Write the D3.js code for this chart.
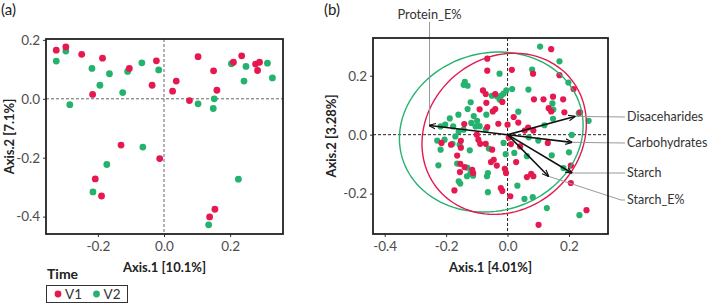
<!DOCTYPE html>
<html lang="en">
<head>
<meta charset="UTF-8">
<title>PCoA biplots</title>
<script src="https://d3js.org/d3.v7.min.js"></script>
<style>
  body { margin: 0; background: #fff; }
  text { font-family: Lato, "Noto Sans", sans-serif; }
</style>
</head>
<body>
<svg width="709" height="303"></svg>
<script>
// ---- panel (a) ----
const aV1 = [[-0.326,0.165],[-0.297,0.176],[-0.249,0.151],[-0.186,0.138],[-0.216,0.015],[-0.105,0.103],
  [-0.023,0.129],[-0.036,0.046],[0.026,0.026],[0.037,0.060],[0.103,0.143],[0.150,0.095],[0.160,0.029],
  [0.077,-0.006],[0.210,0.124],[0.235,0.146],[0.277,0.118],[0.289,0.124],[0.283,0.096],[-0.130,-0.157],
  [-0.013,-0.203],[-0.208,-0.272],[-0.189,-0.330],[0.154,-0.375],[0.138,-0.401]];
const aV2 = [[-0.326,0.128],[-0.297,0.162],[-0.285,-0.020],[-0.218,0.103],[-0.194,0.046],[-0.165,0.085],
  [-0.125,0.021],[-0.110,0.093],[-0.067,0.122],[-0.016,0.098],[0.103,-0.017],[0.152,0.000],[0.149,-0.033],
  [0.204,0.119],[0.248,0.110],[0.242,0.060],[0.313,0.121],[0.328,0.071],[-0.064,-0.164],[-0.173,-0.223],
  [-0.215,-0.316],[0.225,-0.273],[0.135,-0.428]];
const aXTicks = [-0.2, 0.0, 0.2];
const aYTicks = [0.2, 0.0, -0.2, -0.4];

// ---- panel (b) ----
const bV1 = [[0.142,0.290],[-0.066,0.258],[0.014,0.220],[0.083,0.207],[-0.066,0.217],[0.169,0.202],
  [0.215,0.155],[0.086,0.120],[0.117,0.120],[0.148,0.129],[0.181,0.120],[-0.071,0.138],[-0.040,0.138],
  [-0.069,0.108],[-0.091,0.086],[-0.040,0.087],[-0.048,0.079],[-0.017,0.111],[0.134,0.090],[0.142,0.079],
  [0.185,0.076],[0.236,0.076],[-0.030,0.037],[0.000,0.034],[-0.141,0.036],[0.084,0.014],[0.056,0.014],
  [0.131,-0.028],[0.011,-0.032],[-0.215,-0.028],[-0.184,-0.034],[-0.164,-0.071],[-0.154,-0.099],
  [-0.095,-0.017],[-0.089,-0.031],[-0.071,-0.031],[-0.050,-0.051],[-0.045,-0.085],[-0.035,-0.105],
  [-0.054,-0.093],[-0.009,-0.116],[-0.005,-0.130],[0.028,-0.093],[-0.112,-0.130],[0.077,-0.133],
  [0.084,-0.141],[0.063,-0.144],[0.206,-0.105],[0.206,-0.164],[-0.173,-0.189],[-0.022,-0.181],
  [-0.017,-0.191],[0.009,-0.209],[0.257,-0.256],[0.101,-0.306],[0.041,-0.040],[0.004,-0.010],
  [-0.152,-0.021],[-0.140,-0.110],[-0.152,-0.044],[-0.155,-0.127],[-0.115,-0.119],[0.035,0.041],
  [0.067,0.024],[-0.066,0.026],[-0.080,0.150],[0.020,0.060],[-0.100,0.000]];
const bV2 = [[0.106,0.299],[0.169,0.249],[0.080,0.221],[-0.026,0.207],[-0.139,0.179],[-0.130,0.166],
  [-0.143,0.169],[0.015,0.155],[0.068,0.153],[0.198,0.177],[-0.051,0.132],[-0.035,0.130],[-0.021,0.132],
  [-0.013,0.139],[-0.026,0.119],[0.146,0.106],[0.148,0.054],[-0.188,0.055],[-0.160,0.068],[-0.130,0.087],
  [-0.110,0.063],[-0.099,0.047],[-0.118,0.040],[-0.104,0.028],[-0.218,0.028],[-0.203,0.034],
  [-0.177,0.028],[-0.159,0.011],[-0.143,0.017],[-0.069,0.068],[-0.071,0.017],[0.035,0.078],[0.120,0.032],
  [0.232,0.073],[0.264,0.047],[0.209,-0.001],[0.069,-0.009],[-0.205,-0.017],[-0.229,-0.020],
  [-0.013,-0.028],[-0.170,-0.006],[-0.218,-0.051],[-0.123,-0.053],[-0.156,-0.034],[-0.006,-0.066],
  [0.022,-0.062],[0.063,-0.073],[0.144,-0.070],[0.200,-0.060],[-0.225,-0.104],[-0.164,-0.098],
  [-0.121,-0.132],[-0.132,-0.141],[-0.112,-0.139],[-0.067,-0.141],[-0.064,-0.130],[0.182,-0.113],
  [0.032,-0.173],[-0.159,-0.158],[-0.154,-0.166],[-0.064,-0.195],[0.055,-0.218],[0.082,-0.212],
  [0.128,-0.249],[0.234,-0.273],[-0.061,-0.047],[0.149,0.085],[-0.179,-0.031],[-0.131,-0.112],
  [-0.091,0.029],[-0.004,0.150],[-0.120,0.110],[0.100,-0.020]];
const bXTicks = [-0.4, -0.2, 0.0, 0.2];
const bYTicks = [0.2, 0.0, -0.2];
// loadings (arrow tips)
const loadNames = ["Protein_E%", "Disaceharides", "Carbohydrates", "Starch", "Starch_E%"];
const loadX = [-0.254, 0.219, 0.209, 0.209, 0.133];
const loadY = [0.031, 0.062, -0.026, -0.130, -0.141];
// confidence ellipses: centre x, centre y, semi-axis a, semi-axis b, angle (deg)
const ellV1 = [-0.011, 0.003, 0.287, 0.253, 50];
const ellV2 = [-0.053, 0.009, 0.303, 0.267, 20];

const groups = ["V1", "V2"];
const colors = {V1: "#e5194f", V2: "#25b26e"};

const svg = d3.select("svg");

svg.append("defs").append("marker")
  .attr("id", "arr").attr("viewBox", "0 -5 10 10")
  .attr("refX", 9).attr("refY", 0)
  .attr("markerWidth", 7).attr("markerHeight", 7)
  .attr("markerUnits", "userSpaceOnUse")
  .attr("orient", "auto")
  .append("path").attr("d", "M0,-4L10,0L0,4").attr("fill", "none")
  .attr("stroke", "#111").attr("stroke-width", 1.6);

function panel(box, xd, yd, xt, yt, xTitle, yTitle, yTitleX) {
  const x = d3.scaleLinear().domain(xd).range([box.x0, box.x1]);
  const y = d3.scaleLinear().domain(yd).range([box.y1, box.y0]);
  const fmt = d => d.toFixed(1);

  const gx = svg.append("g").attr("transform", `translate(0,${box.y1})`)
    .call(d3.axisBottom(x).tickValues(xt).tickFormat(fmt).tickSize(3).tickSizeOuter(0));
  const gy = svg.append("g").attr("transform", `translate(${box.x0},0)`)
    .call(d3.axisLeft(y).tickValues(yt).tickFormat(fmt).tickSize(3).tickSizeOuter(0));
  [gx, gy].forEach(g => {
    g.select(".domain").remove();
    g.selectAll(".tick line").attr("stroke", "#333");
    g.selectAll(".tick text").attr("fill", "#4d4d4d").style("font-size", "13.5px")
      .style("font-family", "Lato, sans-serif");
  });
  gx.selectAll(".tick text").attr("dy", "0.85em");

  svg.append("text").attr("x", (box.x0 + box.x1) / 2).attr("y", 272)
    .attr("text-anchor", "middle").style("font-weight", "bold").style("font-size", "13px")
    .attr("fill", "#222").text(xTitle);
  svg.append("text")
    .attr("transform", `translate(${yTitleX},${(box.y0 + box.y1) / 2}) rotate(-90)`)
    .attr("text-anchor", "middle").style("font-weight", "bold").style("font-size", "13px")
    .attr("fill", "#222").text(yTitle);
  return {x, y};
}

function zeroLines(s, box, color) {
  svg.append("line").attr("x1", box.x0).attr("x2", box.x1).attr("y1", s.y(0)).attr("y2", s.y(0))
    .attr("stroke", color).attr("stroke-dasharray", "3,2").attr("stroke-width", 1);
  svg.append("line").attr("x1", s.x(0)).attr("x2", s.x(0)).attr("y1", box.y0).attr("y2", box.y1)
    .attr("stroke", color).attr("stroke-dasharray", "3,2").attr("stroke-width", 1);
}

function frame(box) {
  svg.append("rect").attr("x", box.x0).attr("y", box.y0)
    .attr("width", box.x1 - box.x0).attr("height", box.y1 - box.y0)
    .attr("fill", "none").attr("stroke", "#222").attr("stroke-width", 1.8);
}

function dots(s, pts, color, r) {
  svg.append("g").selectAll("circle").data(pts).join("circle")
    .attr("cx", d => s.x(d[0])).attr("cy", d => s.y(d[1])).attr("r", r)
    .attr("fill", color);
}

// ---- (a) ----
const boxA = {x0: 46, x1: 283, y0: 39, y1: 234};
const sA = panel(boxA, [-0.357, 0.36], [-0.459, 0.203], aXTicks, aYTicks,
  "Axis.1 [10.1%]", "Axis.2 [7.1%]", 14);
zeroLines(sA, boxA, "#666");
dots(sA, aV2, colors.V2, 3.4);
dots(sA, aV1, colors.V1, 3.4);
frame(boxA);

// ---- (b) ----
const boxB = {x0: 373, x1: 608, y0: 38, y1: 234};
const sB = panel(boxB, [-0.438, 0.327], [-0.337, 0.328], bXTicks, bYTicks,
  "Axis.1 [4.01%]", "Axis.2 [3.28%]", 336);
zeroLines(sB, boxB, "#222");

function ellipse(p) {
  const [cx, cy, a, b, ang] = p;
  const t = ang * Math.PI / 180;
  return d3.range(0, 361, 3).map(k => {
    const u = k * Math.PI / 180;
    return [cx + a * Math.cos(u) * Math.cos(t) - b * Math.sin(u) * Math.sin(t),
            cy + a * Math.cos(u) * Math.sin(t) + b * Math.sin(u) * Math.cos(t)];
  });
}
const eLine = d3.line().x(d => sB.x(d[0])).y(d => sB.y(d[1]));

dots(sB, bV2, colors.V2, 3.1);
dots(sB, bV1, colors.V1, 3.1);
svg.append("path").attr("d", eLine(ellipse(ellV2))).attr("fill", "none")
  .attr("stroke", colors.V2).attr("stroke-width", 1.4);
svg.append("path").attr("d", eLine(ellipse(ellV1))).attr("fill", "none")
  .attr("stroke", colors.V1).attr("stroke-width", 1.4);

// leader lines + labels
const labelY = [null, 117, 143, 173, 200];
const labelX = 627;
loadNames.forEach((n, i) => {
  const tx = sB.x(loadX[i]), ty = sB.y(loadY[i]);
  if (i === 0) {
    svg.append("path").attr("d", `M${tx},${ty}V22`).attr("stroke", "#999").attr("fill", "none");
    svg.append("text").attr("x", tx).attr("y", 19).attr("text-anchor", "middle")
      .style("font-size", "12.8px").attr("fill", "#333").text(n);
  } else {
    const ly = labelY[i];
    const mid = Math.abs(ly - ty) > 3 ? `L${labelX - 6},${ly}` : "";
    svg.append("path").attr("d", `M${tx},${ty}${mid}L${labelX - 2},${ly}`)
      .attr("stroke", "#999").attr("fill", "none");
    svg.append("text").attr("x", labelX).attr("y", ly).attr("dy", "0.35em")
      .style("font-size", "12.5px").attr("fill", "#333").text(n);
  }
});
svg.append("g").selectAll("line").data(loadNames).join("line")
  .attr("x1", sB.x(0)).attr("y1", sB.y(0))
  .attr("x2", (d, i) => sB.x(loadX[i])).attr("y2", (d, i) => sB.y(loadY[i]))
  .attr("stroke", "#111").attr("stroke-width", 1.6).attr("marker-end", "url(#arr)");
frame(boxB);

// panel tags
svg.append("text").attr("x", 1).attr("y", 15).style("font-size", "15px").attr("fill", "#222").text("(a)");
svg.append("text").attr("x", 324).attr("y", 15).style("font-size", "15px").attr("fill", "#222").text("(b)");

// legend
svg.append("text").attr("x", 47).attr("y", 279).style("font-weight", "bold").style("font-size", "14px")
  .attr("fill", "#222").text("Time");
svg.append("rect").attr("x", 46.5).attr("y", 285.5).attr("width", 81).attr("height", 17)
  .attr("fill", "none").attr("stroke", "#333").attr("stroke-width", 1);
groups.forEach((g, i) => {
  const gx = 58 + i * 38.5;
  svg.append("circle").attr("cx", gx).attr("cy", 294).attr("r", 3.4).attr("fill", colors[g]);
  svg.append("text").attr("x", gx + 7).attr("y", 294).attr("dy", "0.35em")
    .style("font-size", "13.5px").attr("fill", "#333").text(g);
});
</script>
</body>
</html>
